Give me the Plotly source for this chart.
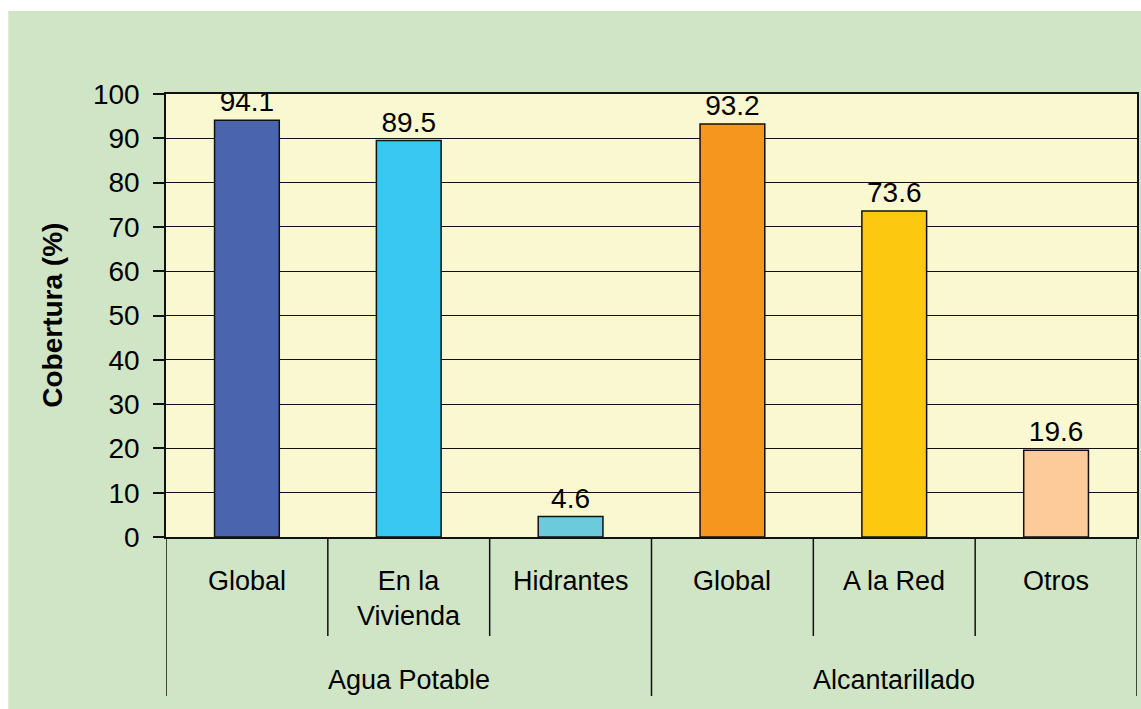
import plotly.graph_objects as go

# Coverage of water and sewerage services (%)
groups = ["Agua Potable", "Alcantarillado"]
subcategories = ["Global", "En la<br>Vivienda", "Hidrantes", "Global", "A la Red", "Otros"]
group_of = [0, 0, 0, 1, 1, 1]
coverage = [94.1, 89.5, 4.6, 93.2, 73.6, 19.6]
bar_colors = ["#4a64ad", "#38c8f2", "#6bcbdd", "#f7961e", "#fcc810", "#fdcb9a"]
y_ticks = [0, 10, 20, 30, 40, 50, 60, 70, 80, 90, 100]

W, H = 1141, 709
M_L, M_R, M_T, M_B = 166, 2, 94, 172
plot_w = W - M_L - M_R
plot_h = H - M_T - M_B

def px_x(px):
    return (px - M_L) / plot_w

def px_y(py):
    return (H - M_B - py) / plot_h

FONT = "Liberation Sans, Arial, sans-serif"
positions = [i + 0.5 for i in range(len(coverage))]

fig = go.Figure()
fig.add_trace(go.Bar(
    x=positions,
    y=coverage,
    width=0.4,
    marker=dict(color=bar_colors, line=dict(color="#111111", width=1.5)),
    text=[f"{v:.1f}" for v in coverage],
    textposition="outside",
    textfont=dict(family=FONT, size=28, color="#000000"),
    constraintext="none",
    cliponaxis=False,
    hoverinfo="skip",
))

shapes = [
    # outer green panel and pale yellow plotting area
    dict(type="rect", xref="paper", yref="paper", x0=px_x(8), x1=px_x(W + 5),
         y0=px_y(H + 5), y1=px_y(11), fillcolor="#d0e5c5", line=dict(width=0), layer="below"),
    dict(type="rect", xref="paper", yref="paper", x0=0, x1=1, y0=0, y1=1,
         fillcolor="#faf8d0", line=dict(width=0), layer="below"),
]

# dividers between subcategories and between groups
n = len(coverage)
for b in range(n + 1):
    is_group_edge = b == 0 or b == n or group_of[b - 1] != group_of[b]
    y_end = px_y(696) if is_group_edge else px_y(636)
    shapes.append(dict(type="line", xref="x", yref="paper", x0=b, x1=b, y0=0, y1=y_end,
                       line=dict(color="#111111", width=1.5)))

annotations = []
for pos, label in zip(positions, subcategories):
    annotations.append(dict(x=pos, y=px_y(564), xref="x", yref="paper", text=label,
                            showarrow=False, yanchor="top", xanchor="center",
                            font=dict(family=FONT, size=27, color="#000000")))

for g, name in enumerate(groups):
    members = [positions[i] for i in range(n) if group_of[i] == g]
    annotations.append(dict(x=sum(members) / len(members), y=px_y(680), xref="x", yref="paper",
                            text=name, showarrow=False, yanchor="middle", xanchor="center",
                            font=dict(family=FONT, size=27, color="#000000")))

annotations.append(dict(x=px_x(52), y=0.5, xref="paper", yref="paper", text="<b>Cobertura (%)</b>",
                        textangle=-90, showarrow=False, xanchor="center", yanchor="middle",
                        font=dict(family=FONT, size=28, color="#000000")))

fig.update_layout(
    width=W, height=H,
    margin=dict(l=M_L, r=M_R, t=M_T, b=M_B, pad=0),
    paper_bgcolor="#ffffff",
    plot_bgcolor="rgba(0,0,0,0)",
    showlegend=False,
    shapes=shapes,
    annotations=annotations,
    xaxis=dict(range=[0, n], showticklabels=False, ticks="", showgrid=False, zeroline=False,
               showline=True, linecolor="#111111", linewidth=2, mirror=True, fixedrange=True),
    yaxis=dict(range=[0, 100], tickvals=y_ticks, ticks="outside", ticklen=11, tickcolor="#111111",
               tickwidth=1.5, ticklabelstandoff=8,
               tickfont=dict(family=FONT, size=28, color="#000000"),
               showgrid=True, gridcolor="#111111", gridwidth=1.2, zeroline=False,
               showline=True, linecolor="#111111", linewidth=1.5, mirror=True, fixedrange=True),
)

fig.write_html("out.html")
